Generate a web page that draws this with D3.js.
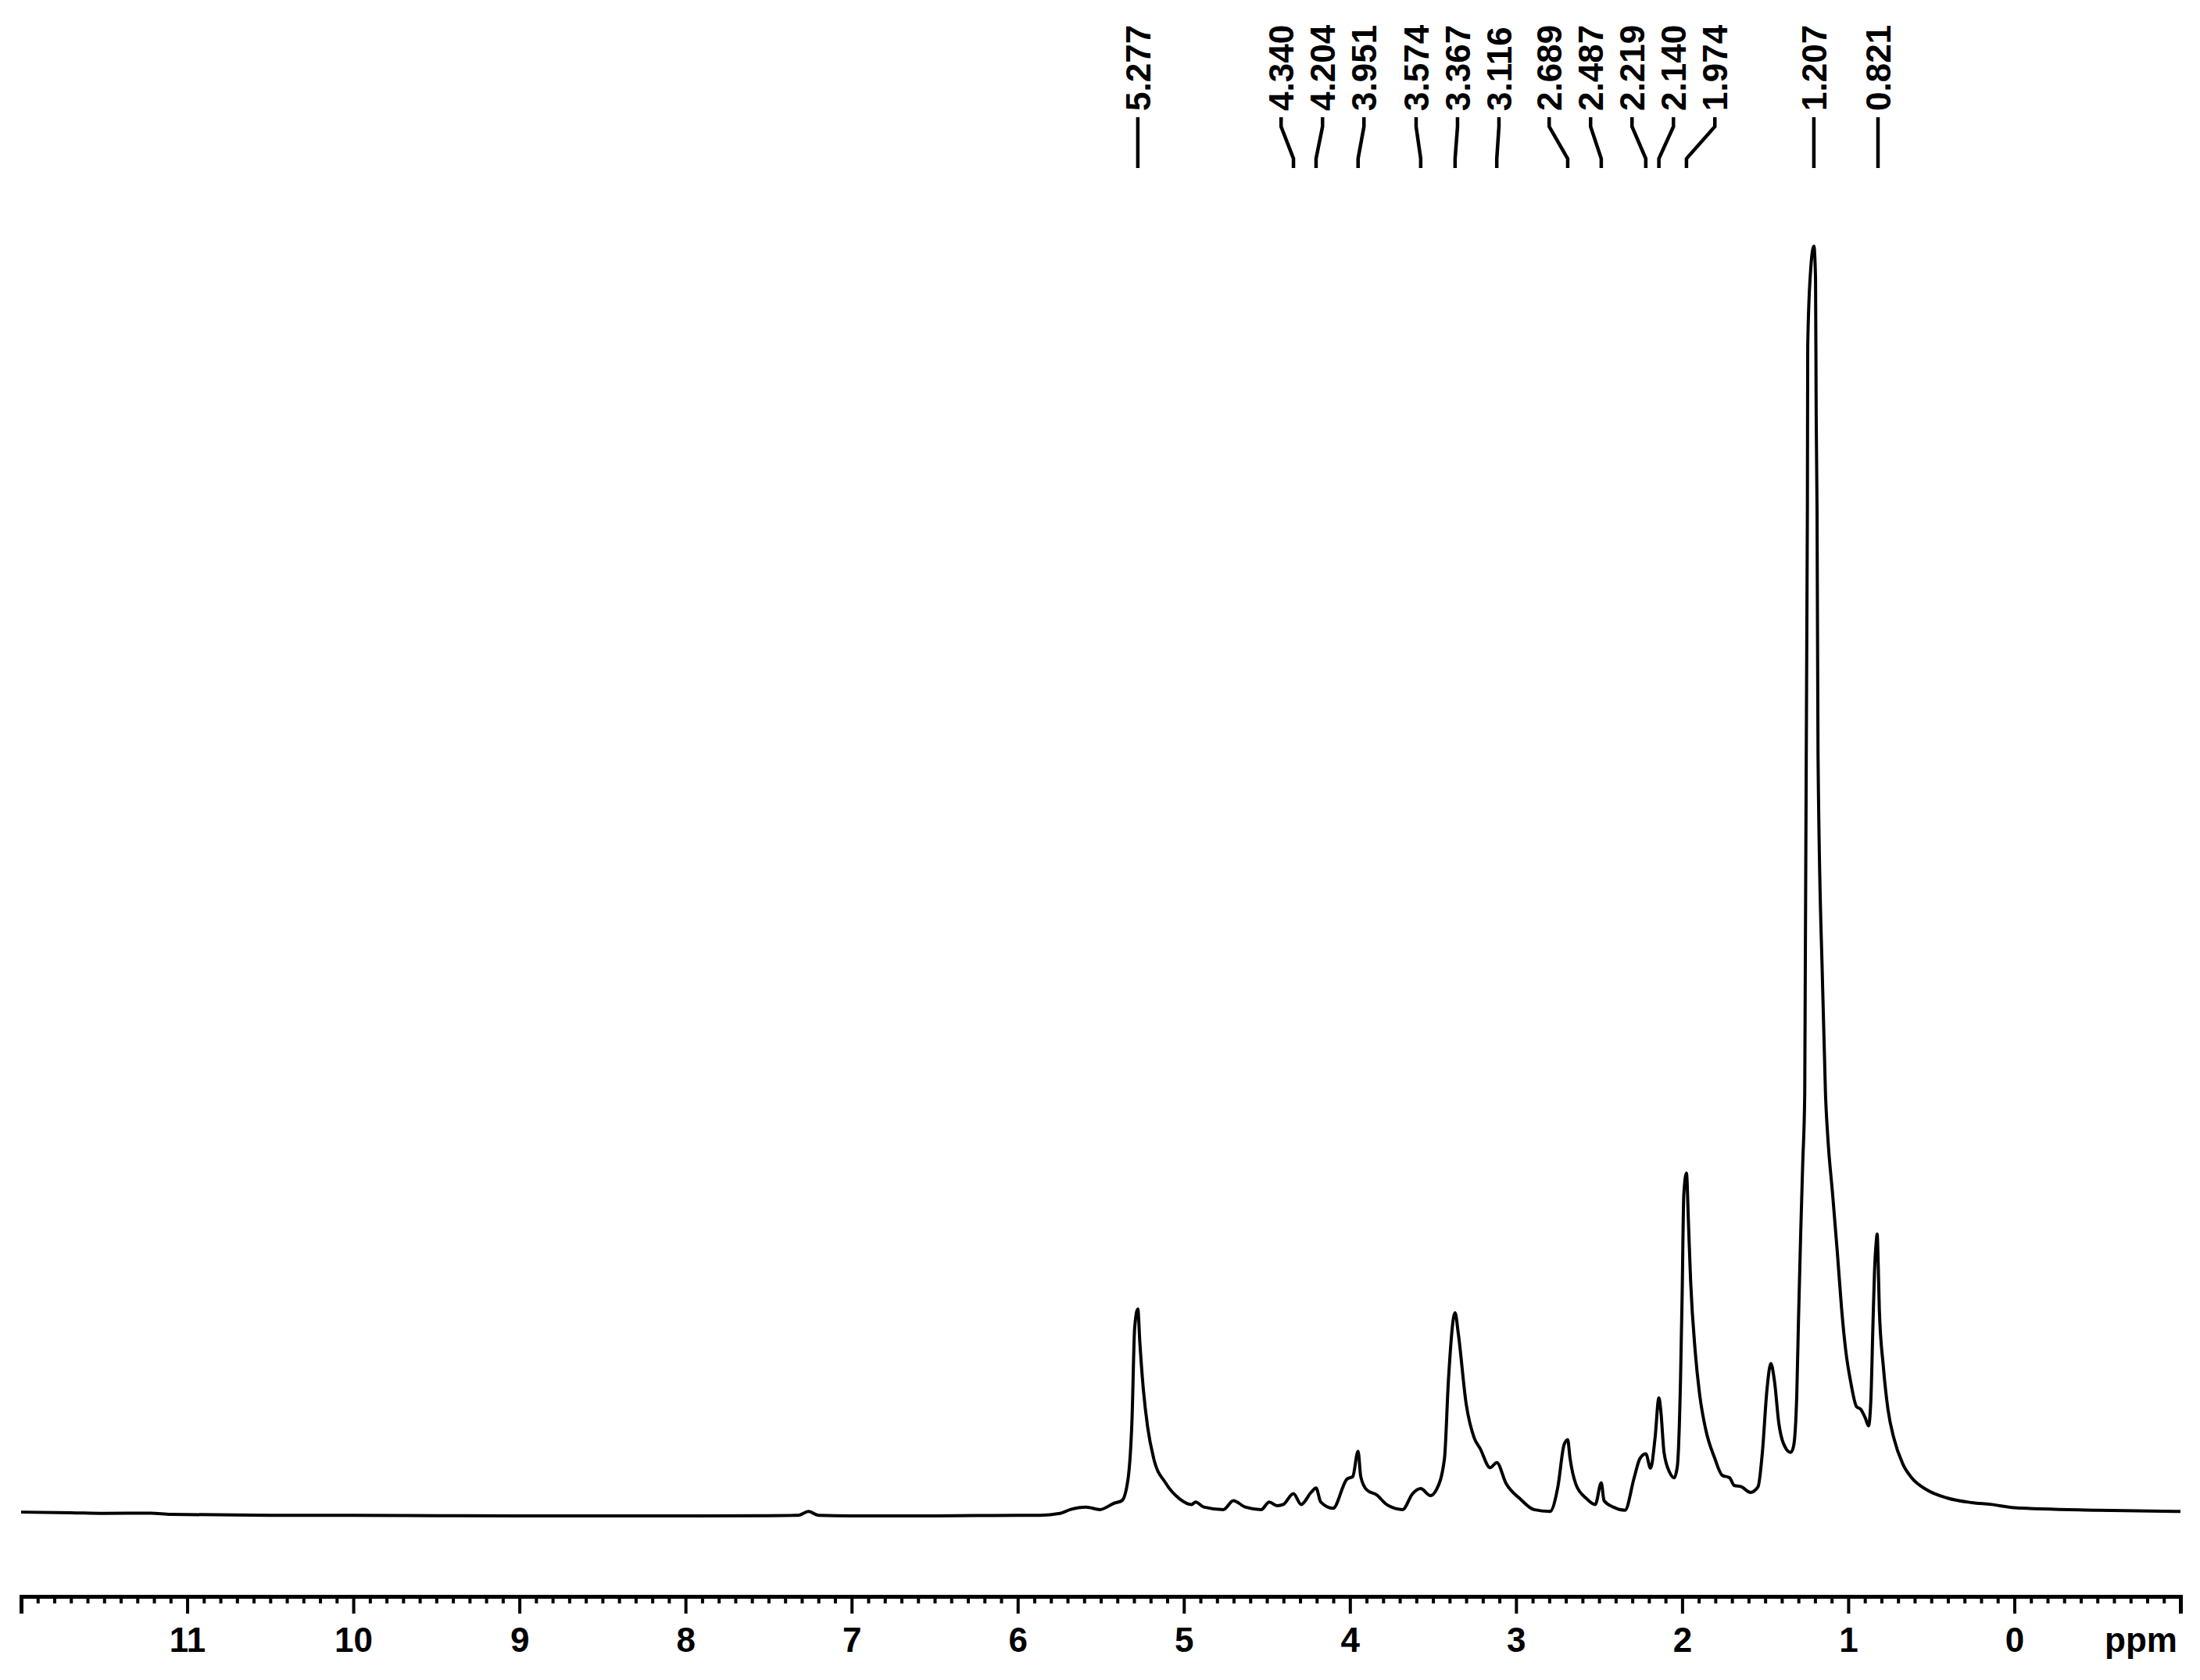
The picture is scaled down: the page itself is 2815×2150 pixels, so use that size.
<!DOCTYPE html>
<html>
<head>
<meta charset="utf-8">
<script src="https://cdn.jsdelivr.net/npm/d3@7/dist/d3.min.js"></script>
<style>
  body { margin: 0; background: #fff; }
  svg { display: block; }
  text { font-family: "Liberation Sans", Arial, Helvetica, sans-serif; font-weight: bold; fill: #000; }
</style>
</head>
<body>
<div id="chart"></div>
<script>
// chemical shift (ppm) of each traced point of the spectrum, high to low
var shift = [
  12.0, 11.7, 11.5, 11.22, 11.1, 10.5, 10.0, 9.5, 9.0, 8.5, 8.0, 7.5, 7.32, 7.26, 7.2, 7.0, 6.5,
  6.0, 5.864, 5.745, 5.684, 5.589, 5.505, 5.42, 5.373, 5.336, 5.312, 5.296, 5.277, 5.265, 5.246,
  5.218, 5.181, 5.11, 5.026, 4.953, 4.929, 4.88, 4.762, 4.702, 4.631, 4.534, 4.486, 4.438, 4.402,
  4.340, 4.294, 4.234, 4.204, 4.176, 4.102, 4.018, 3.983, 3.951, 3.935, 3.899, 3.839, 3.779, 3.683,
  3.623, 3.574, 3.515, 3.48, 3.431, 3.407, 3.367, 3.348, 3.30, 3.252, 3.216, 3.156, 3.116, 3.06,
  2.976, 2.893, 2.796, 2.748, 2.711, 2.689, 2.675, 2.64, 2.579, 2.523, 2.487, 2.470, 2.415, 2.344,
  2.289, 2.255, 2.219, 2.19, 2.163, 2.140, 2.128, 2.109, 2.074, 2.048, 2.029, 2.01, 2.000, 1.990,
  1.974, 1.962, 1.949, 1.921, 1.894, 1.858, 1.804, 1.759, 1.714, 1.687, 1.644, 1.589, 1.543, 1.517,
  1.489, 1.466, 1.444, 1.418, 1.39, 1.346, 1.329, 1.31, 1.30, 1.287, 1.274, 1.262, 1.246, 1.244,
  1.228, 1.207, 1.197, 1.193, 1.188, 1.182, 1.155, 1.137, 1.123, 1.094, 1.066, 1.04, 1.014, 0.986,
  0.95, 0.925, 0.897, 0.878, 0.864, 0.851, 0.842, 0.832, 0.826, 0.819, 0.813, 0.789, 0.761, 0.726,
  0.672, 0.618, 0.528, 0.402, 0.258, 0.136, 0.0, -0.5, -1.0
];
// intensity at each point, tallest peak = 100
var intensity = [
  0.3, 0.25, 0.2, 0.22, 0.12, 0.05, 0.05, 0.02, 0.0, 0.0, 0.0, 0.02, 0.05, 0.35, 0.05, 0.0, 0.0,
  0.05, 0.05, 0.2, 0.5, 0.7, 0.5, 1.0, 1.2, 2.9, 7.6, 14.8, 16.3, 13.7, 10.3,
  7.0, 4.5, 2.6, 1.35, 0.9, 1.1, 0.7, 0.5, 1.2, 0.7, 0.5, 1.1, 0.8, 0.9,
  1.75, 0.9, 1.85, 2.2, 1.1, 0.6, 2.9, 3.1, 5.1, 3.1, 2.05, 1.65, 0.9, 0.5,
  1.75, 2.15, 1.6, 2.05, 4.5, 10.7, 16.0, 14.4, 8.8, 6.15, 5.3, 3.8, 4.2, 2.55,
  1.35, 0.5, 0.35, 2.3, 5.6, 6.0, 4.55, 2.5, 1.4, 0.9, 2.6, 1.2, 0.7, 0.45,
  3.0, 4.5, 4.9, 3.75, 6.15, 9.3, 8.2, 5.0, 3.4, 3.0, 3.9, 10.6, 17.4, 25.3,
  27.0, 23.1, 18.5, 12.9, 9.5, 6.8, 4.55, 3.2, 3.0, 2.4, 2.3, 1.85, 2.3, 5.0,
  10.0, 12.0, 10.6, 7.3, 5.7, 5.0, 5.5, 9.5, 15.2, 21.9, 27.8, 33.2, 79.4, 92.1,
  97.8, 100, 97.5, 86.6, 79.4, 60, 42, 33.2, 29.8, 25.3, 20.8, 16.3, 12.9, 10.6,
  8.6, 8.4, 7.7, 7.1, 9.1, 15.2, 19.2, 21.5, 22.2, 19.5, 16.3, 11.8, 8.4, 6.15,
  4.1, 3.0, 2.06, 1.4, 1.05, 0.9, 0.65, 0.45, 0.35
];
// picked peaks
var peaks = [5.277, 4.340, 4.204, 3.951, 3.574, 3.367, 3.116, 2.689, 2.487, 2.219, 2.140, 1.974, 1.207, 0.821];
// axis
var majorTicks = [11, 10, 9, 8, 7, 6, 5, 4, 3, 2, 1, 0];
var axisUnit = "ppm";

var W = 2815, H = 2150;
var axisY = 2043;

var svg = d3.select("#chart").append("svg")
    .attr("width", W)
    .attr("height", H);

svg.append("rect").attr("width", W).attr("height", H).attr("fill", "#fff");

var x = d3.scaleLinear().domain([12, -1]).range([27, 2790]);
var y = d3.scaleLinear().domain([0, 100]).range([1940, 315]);

var points = shift.map(function (s, i) { return [s, intensity[i]]; });

var line = d3.line()
    .x(function (d) { return x(d[0]); })
    .y(function (d) { return y(d[1]); })
    .curve(d3.curveMonotoneX);

svg.append("path")
    .datum(points)
    .attr("fill", "none")
    .attr("stroke", "#000")
    .attr("stroke-width", 4)
    .attr("stroke-linejoin", "round")
    .attr("d", line);

// axis: minor ticks every 0.1 ppm, then majors with labels
var minorTicks = d3.range(-10, 120).map(function (k) { return k / 10; })
    .filter(function (v) { return Math.abs(v - Math.round(v)) > 1e-6; });

var minorAxis = d3.axisBottom(x).tickValues(minorTicks).tickSize(9).tickSizeOuter(0).tickFormat("");
var majorAxis = d3.axisBottom(x).tickValues(majorTicks).tickSize(22).tickSizeOuter(22)
    .tickPadding(18).tickFormat(d3.format("d"));

var gMinor = svg.append("g").attr("transform", "translate(0," + axisY + ")").call(minorAxis);
gMinor.select(".domain").remove();
gMinor.selectAll("line").attr("stroke", "#000").attr("stroke-width", 4);

var gMajor = svg.append("g").attr("transform", "translate(0," + axisY + ")").call(majorAxis);
gMajor.select(".domain").attr("stroke", "#000").attr("stroke-width", 5);
gMajor.selectAll(".tick line").attr("stroke", "#000").attr("stroke-width", 4);
gMajor.selectAll(".tick text")
    .style("font-size", "44px")
    .style("font-family", "'Liberation Sans', Arial, Helvetica, sans-serif")
    .style("font-weight", "bold")
    .attr("fill", "#000");

svg.append("text")
    .attr("x", 2786)
    .attr("y", axisY + 71)
    .attr("text-anchor", "end")
    .style("font-size", "44px")
    .text(axisUnit);

// peak labels spread so they do not overlap
var gap = 53;
var clusters = peaks.map(function (p) { var px = x(p); return { sum: px, n: 1, start: px }; });
var merged = true;
while (merged) {
  merged = false;
  for (var i = 0; i < clusters.length - 1; i++) {
    var a = clusters[i], b = clusters[i + 1];
    if (a.start + a.n * gap > b.start) {
      var n = a.n + b.n, sum = a.sum + b.sum;
      clusters.splice(i, 2, { sum: sum, n: n, start: sum / n - (n - 1) * gap / 2 });
      merged = true;
      break;
    }
  }
}
var labelX = [];
clusters.forEach(function (c) {
  for (var k = 0; k < c.n; k++) labelX.push(c.start + k * gap);
});

var gLabels = svg.append("g");
peaks.forEach(function (p, i) {
  var px = x(p), lx = labelX[i];
  gLabels.append("path")
      .attr("d", "M" + lx + ",150L" + lx + ",162L" + px + ",203L" + px + ",215")
      .attr("fill", "none")
      .attr("stroke", "#000")
      .attr("stroke-width", 4.5);
  gLabels.append("text")
      .attr("transform", "translate(" + lx + ",142) rotate(-90)")
      .attr("dy", "0.36em")
      .attr("text-anchor", "start")
      .style("font-size", "44px")
      .text(d3.format(".3f")(p));
});
</script>
</body>
</html>
